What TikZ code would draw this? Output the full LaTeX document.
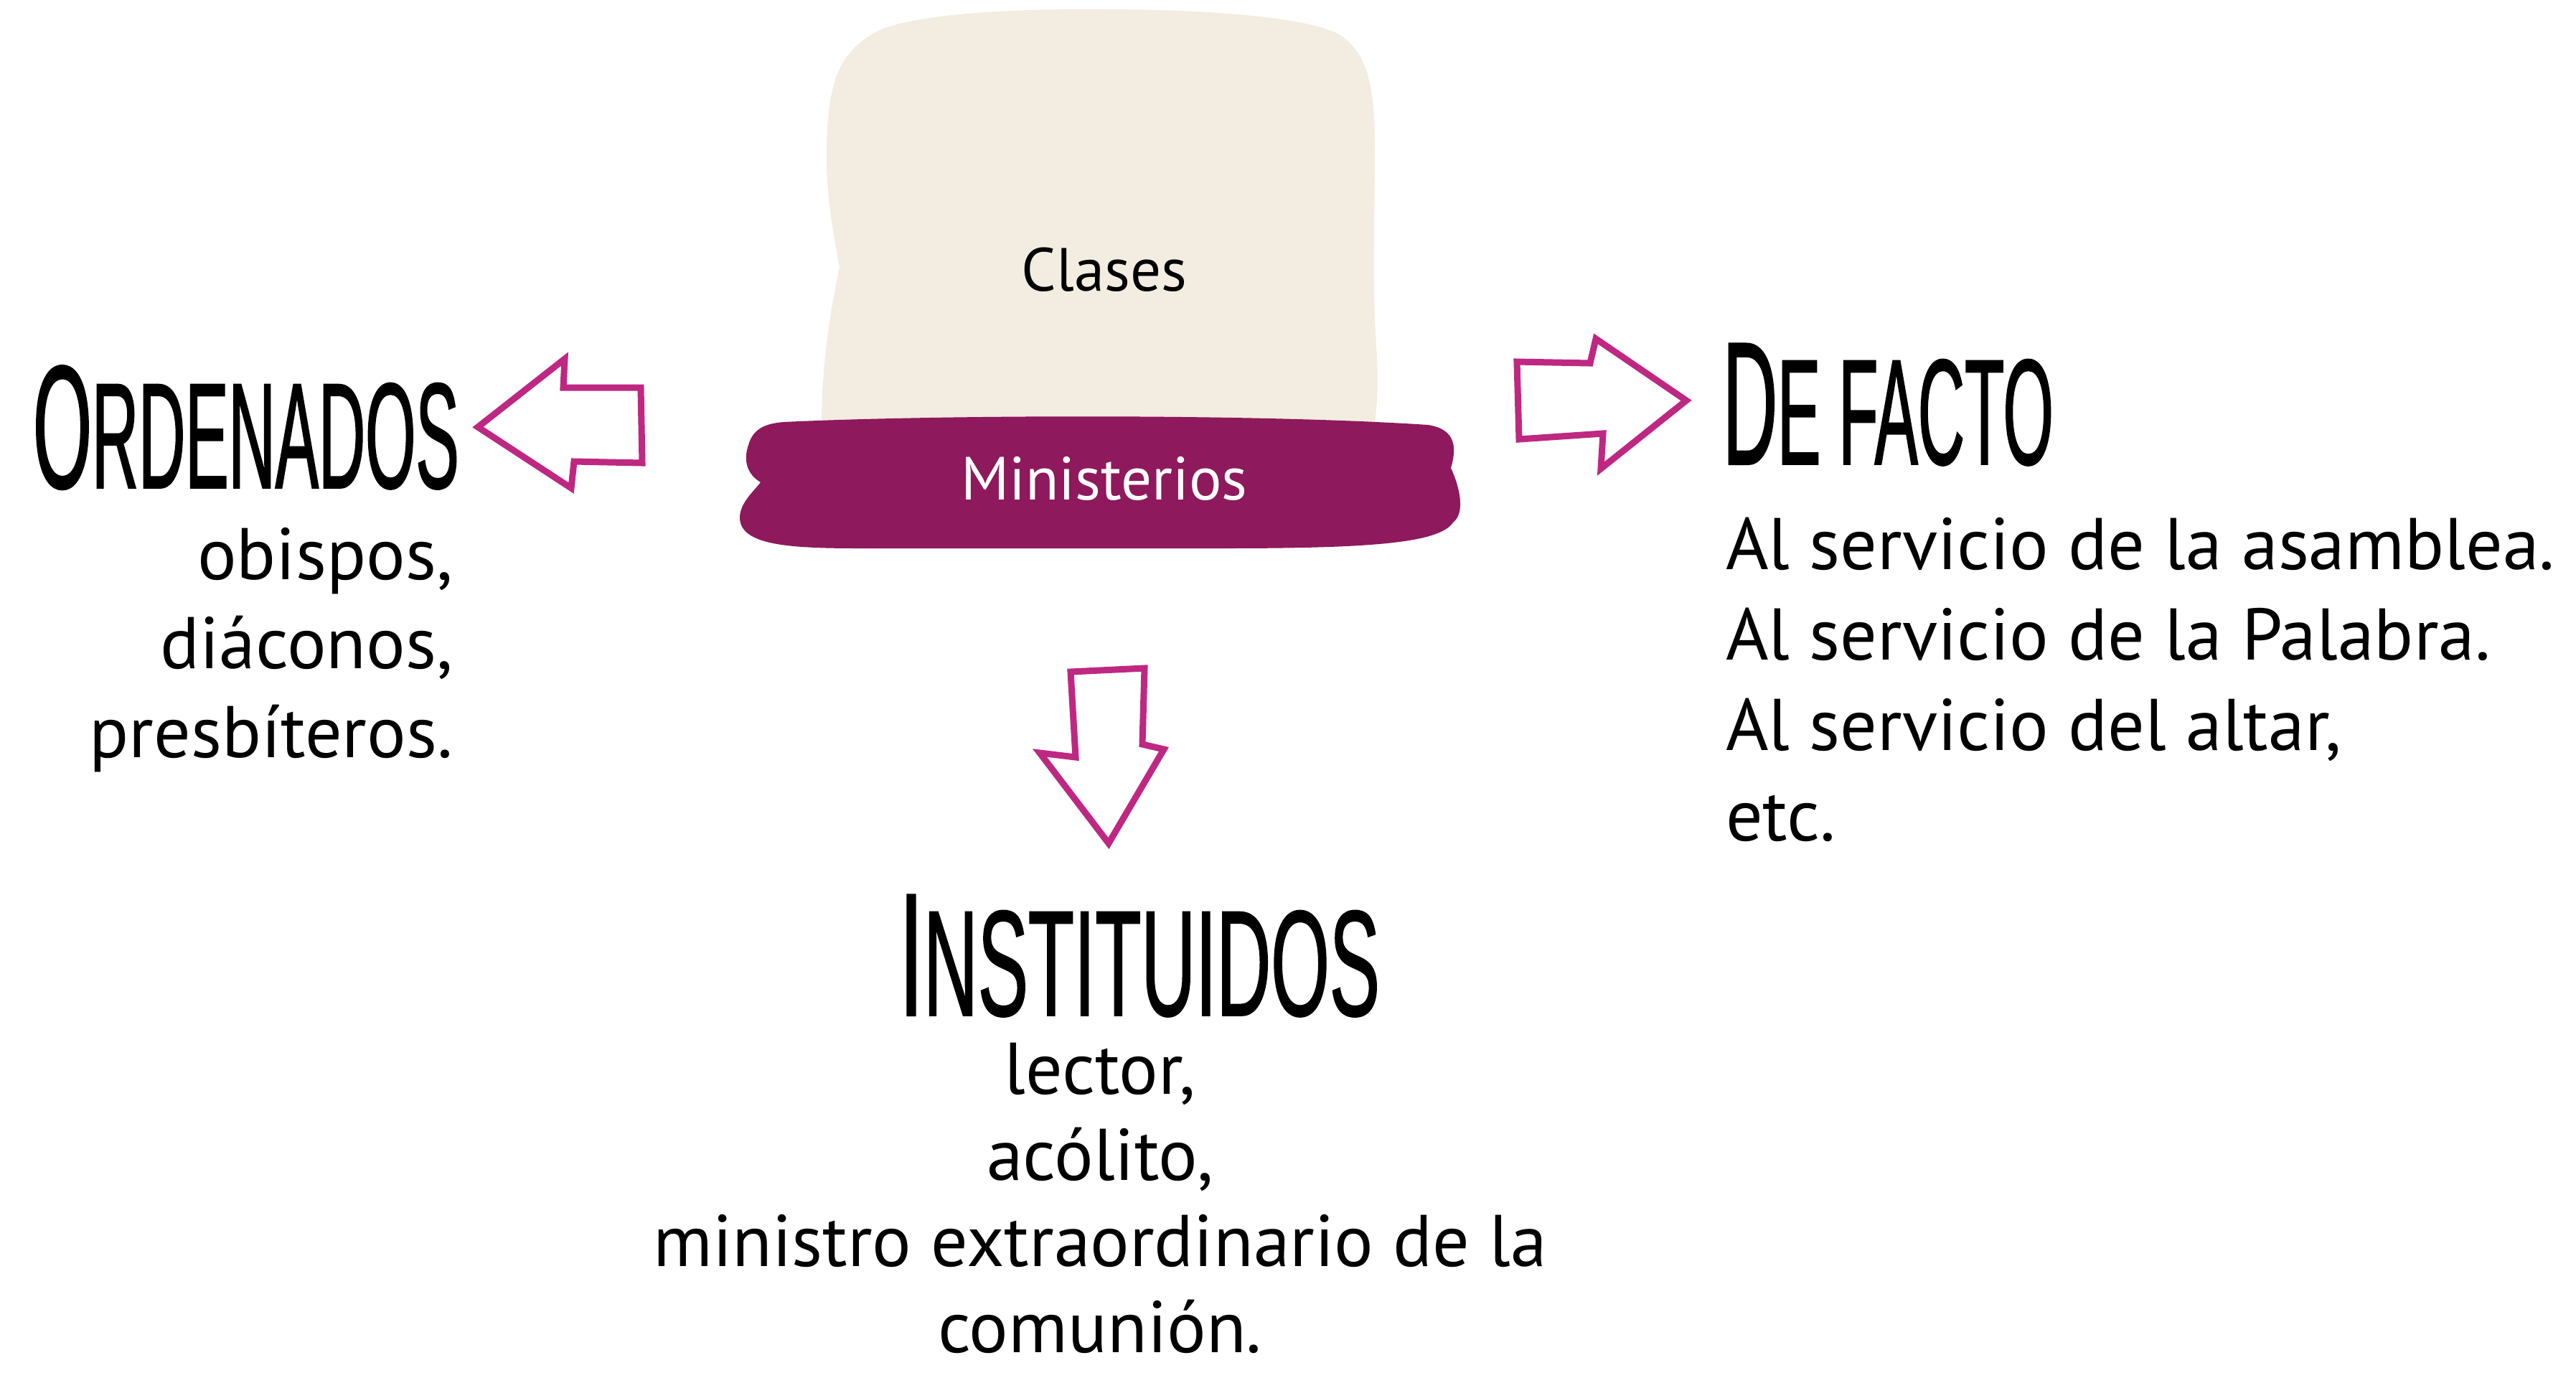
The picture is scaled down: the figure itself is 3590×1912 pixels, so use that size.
\documentclass[tikz,border=0pt]{standalone}
\usepackage{fontspec}
\setmainfont{PT Sans}
\newfontfamily\titlefont[FakeStretch=0.43,FakeBold=0.8]{Liberation Sans}
\newfontfamily\titlewidefont[FakeStretch=0.5,FakeBold=0.8]{Liberation Sans}
\definecolor{beigec}{RGB}{243,236,224}
\definecolor{purplec}{RGB}{142,25,92}
\definecolor{arrowc}{RGB}{190,40,130}
\newcommand\bigsmall[2]{{\fontsize{49pt}{49pt}\selectfont #1}{\fontsize{42pt}{42pt}\selectfont #2}}
\begin{document}
\begin{tikzpicture}[x=0.2pt,y=-0.2pt,
  every node/.style={inner sep=0pt,outer sep=0pt},
  bodytext/.style={font=\fontsize{20.4pt}{25pt}\selectfont,text=black},
  boxlabel/.style={font=\fontsize{17pt}{20pt}\selectfont},
  titletext/.style={font=\titlefont,text=black},
  titlewide/.style={font=\titlewidefont,text=black},
  blockarrow/.style={draw=arrowc,line width=1.8pt,line join=miter,fill=white}]
\useasboundingbox (0,0) rectangle (3590,1912);

% beige "Clases" block
\fill[beigec] (1145,590) .. controls (1145,500) and (1160,420) .. (1170,372)
  .. controls (1160,320) and (1150,260) .. (1152,200)
  .. controls (1155,120) and (1165,70) .. (1230,40)
  .. controls (1300,15) and (1450,12) .. (1540,13)
  .. controls (1650,13) and (1820,20) .. (1870,50)
  .. controls (1910,80) and (1915,130) .. (1916,200)
  .. controls (1916,300) and (1912,400) .. (1918,480)
  .. controls (1922,540) and (1918,570) .. (1916,590) -- cycle;

% purple "Ministerios" band
\fill[purplec] (1092,588) .. controls (1300,578) and (1750,576) .. (1990,592)
  .. controls (2030,598) and (2030,625) .. (2022,652)
  .. controls (2035,680) and (2042,715) .. (2025,728)
  .. controls (2005,758) and (1900,764) .. (1700,764) -- (1200,764)
  .. controls (1100,764) and (1030,760) .. (1031,720)
  .. controls (1032,700) and (1050,685) .. (1060,672)
  .. controls (1040,660) and (1036,640) .. (1043,620)
  .. controls (1050,595) and (1070,590) .. (1092,588) -- cycle;

\node[boxlabel,anchor=base] (clases) at (1539,405) {Clases};
\node[boxlabel,anchor=base,text=white] (ministerios) at (1539,696) {Ministerios};

% block arrows
\draw[blockarrow] (666,595) -- (787,500) -- (785,540) -- (893,540) -- (895,645)
  -- (800,643) -- (796,680) -- cycle;
\draw[blockarrow] (2114,504) -- (2216,506) -- (2224,472) -- (2350,558)
  -- (2231,653) -- (2234,604) -- (2117,612) -- cycle;
\draw[blockarrow] (1492,936) -- (1595,931) -- (1592,1037) -- (1622,1044)
  -- (1545,1175) -- (1449,1049) -- (1499,1055) -- cycle;

% titles
\node[titletext,anchor=base west] (ordenados) at (46,680) {\bigsmall{O}{RDENADOS}};
\node[titletext,anchor=base west] (defacto) at (2401,647) {\bigsmall{D}{E FACTO}};
\node[titlewide,anchor=base west] (instituidos) at (1253,1415) {\bigsmall{I}{NSTITUIDOS}};

% Ordenados list
\node[bodytext,anchor=base east] (o1) at (631,807) {obispos,};
\node[bodytext,anchor=base east] (o2) at (631,931) {diáconos,};
\node[bodytext,anchor=base east] (o3) at (631,1055) {presbíteros.};

% De facto list
\node[bodytext,anchor=base west] (d1) at (2405,793) {Al servicio de la asamblea.};
\node[bodytext,anchor=base west] (d2) at (2405,919) {Al servicio de la Palabra.};
\node[bodytext,anchor=base west] (d3) at (2405,1045) {Al servicio del altar,};
\node[bodytext,anchor=base west] (d4) at (2405,1171) {etc.};

% Instituidos list
\node[bodytext,anchor=base] (i1) at (1533,1524) {lector,};
\node[bodytext,anchor=base] (i2) at (1533,1644) {acólito,};
\node[bodytext,anchor=base] (i3) at (1533,1764) {ministro extraordinario de la};
\node[bodytext,anchor=base] (i4) at (1533,1884) {comunión.};
\end{tikzpicture}
\end{document}
